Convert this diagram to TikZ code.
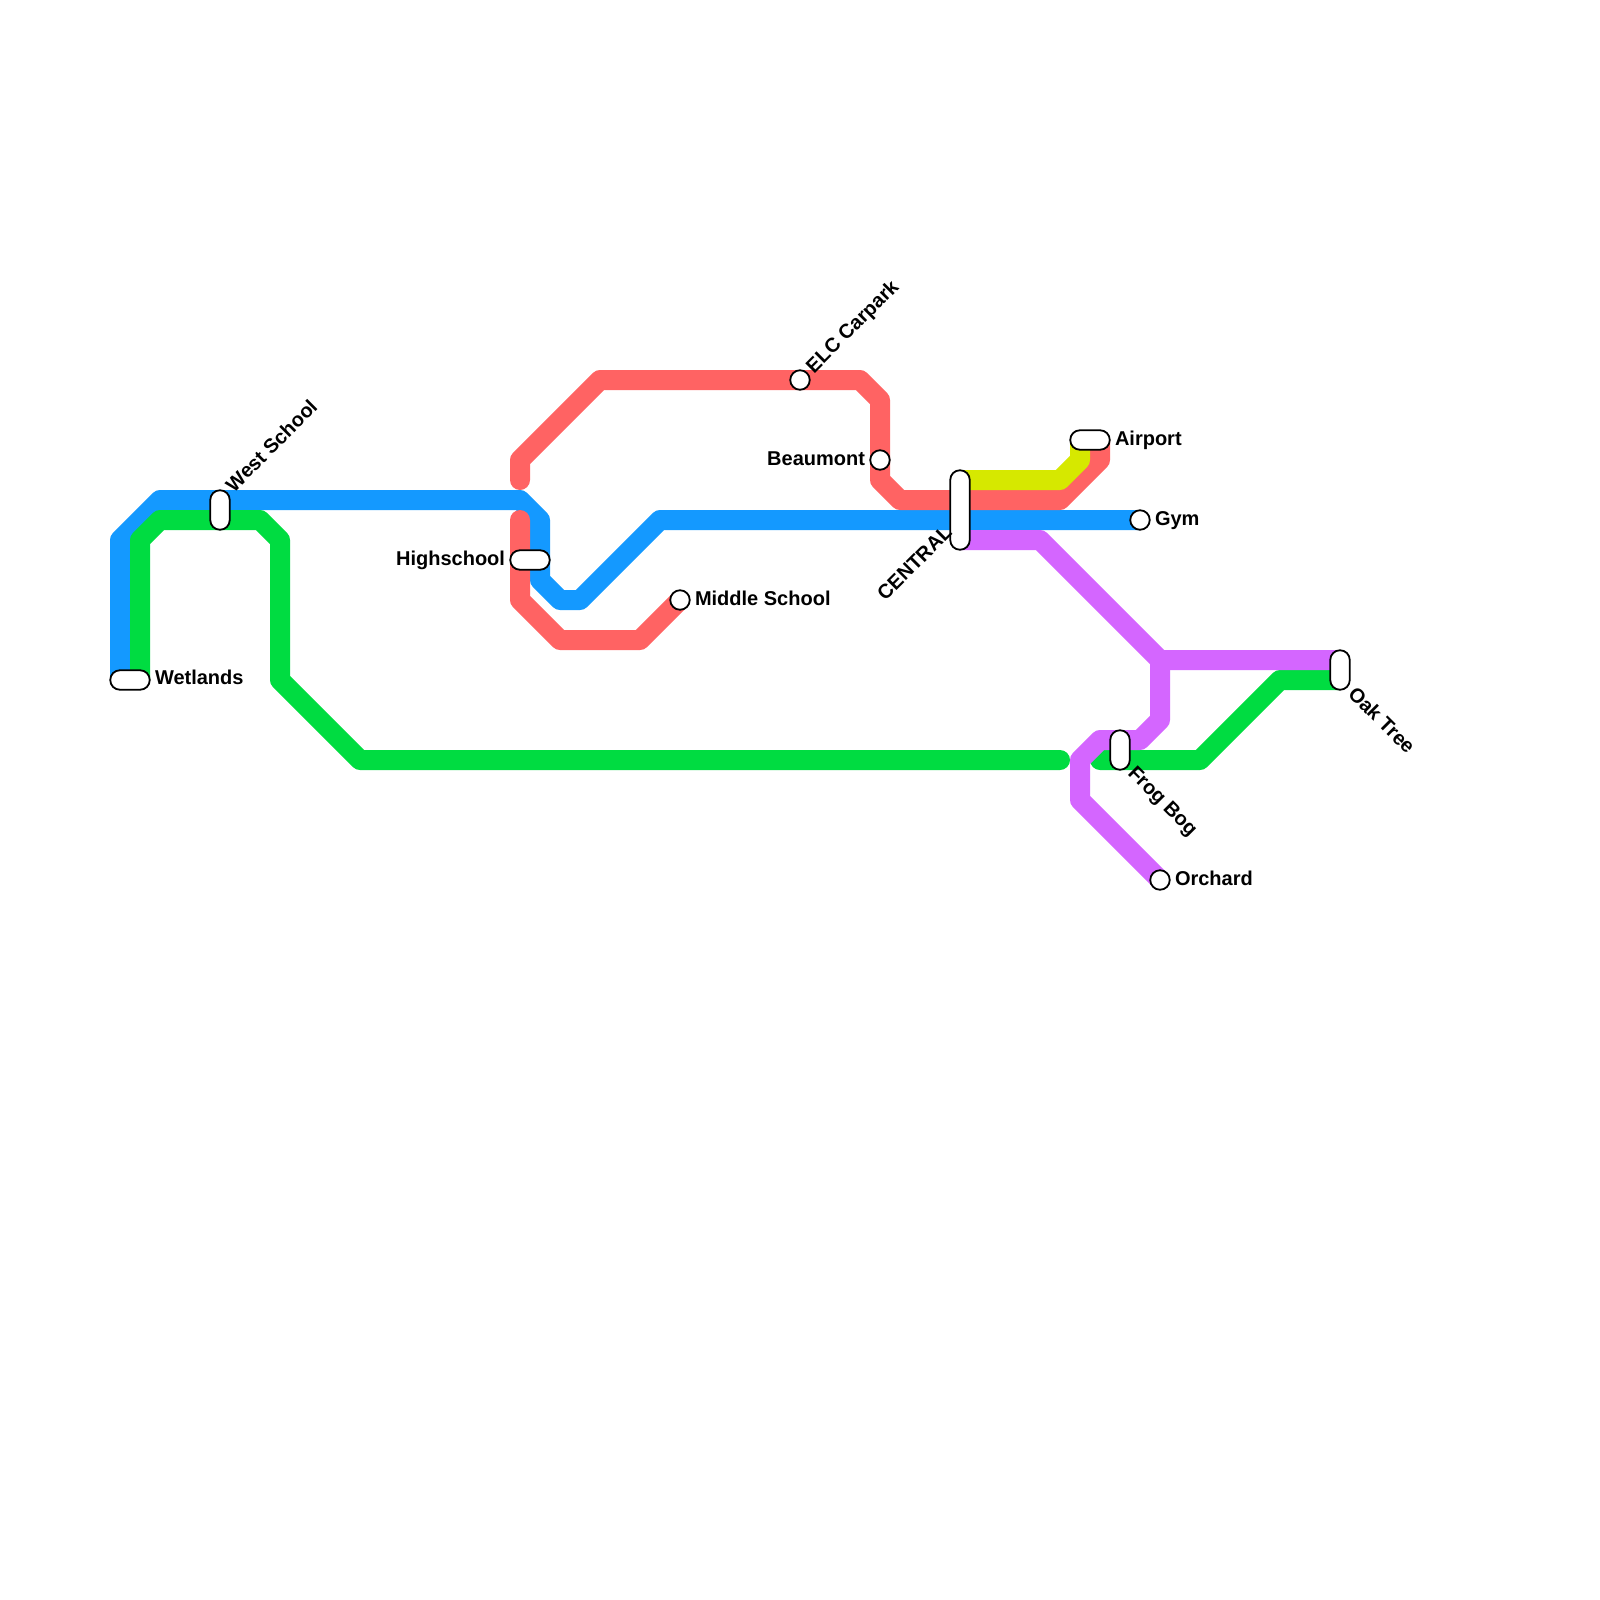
\documentclass[tikz,border=0pt]{standalone}
\usepackage{fontspec}
\setmainfont{Liberation Sans}
\definecolor{lblue}{RGB}{20,153,255}
\definecolor{lred}{RGB}{255,99,99}
\definecolor{lgreen}{RGB}{0,220,65}
\definecolor{lyellow}{RGB}{214,232,0}
\definecolor{lpurple}{RGB}{212,102,255}
\tikzset{
  metro/.style={line width=20pt,line join=round,line cap=round},
  halt/.style={circle,draw=black,fill=white,line width=1.8pt,minimum size=19.5pt,inner sep=0pt},
  widebox/.style={rectangle,rounded corners=9.7pt,draw=black,fill=white,line width=1.8pt,inner sep=0pt,minimum width=39.5pt,minimum height=19.5pt},
  tallbox/.style={rectangle,rounded corners=9.7pt,draw=black,fill=white,line width=1.8pt,inner sep=0pt,minimum width=19.5pt,minimum height=39.5pt},
  longbox/.style={tallbox,minimum height=79.5pt},
  lbl/.style={inner sep=0pt,outer sep=0pt,font=\fontsize{20}{20}\selectfont\bfseries,text=black}
}
\begin{document}
\begin{tikzpicture}[x=1pt,y=-1pt]
\useasboundingbox (0,0) rectangle (1600,1600);
\fill[white] (0,0) rectangle (1600,1600);
% blue
\coordinate (b0) at (120,680); \coordinate (b1) at (120,540); \coordinate (b2) at (160,500);
\coordinate (b3) at (520,500); \coordinate (b4) at (540,520); \coordinate (b5) at (540,580);
\coordinate (b6) at (560,600); \coordinate (b7) at (580,600); \coordinate (b8) at (660,520);
\coordinate (b9) at (1140,520);
% green
\coordinate (g0) at (140,680); \coordinate (g1) at (140,540); \coordinate (g2) at (160,520);
\coordinate (g3) at (260,520); \coordinate (g4) at (280,540); \coordinate (g5) at (280,680);
\coordinate (g6) at (360,760); \coordinate (g7) at (1060,760);
\coordinate (h0) at (1100,760); \coordinate (h1) at (1200,760); \coordinate (h2) at (1280,680);
\coordinate (h3) at (1340,680);
% red
\coordinate (r0) at (520,480); \coordinate (r1) at (520,460); \coordinate (r2) at (600,380);
\coordinate (r3) at (860,380); \coordinate (r4) at (880,400); \coordinate (r5) at (880,480);
\coordinate (r6) at (900,500); \coordinate (r7) at (1060,500); \coordinate (r8) at (1100,460);
\coordinate (r9) at (1100,440);
\coordinate (s0) at (520,520); \coordinate (s1) at (520,600); \coordinate (s2) at (560,640);
\coordinate (s3) at (640,640); \coordinate (s4) at (680,600);
% yellow
\coordinate (y0) at (960,480); \coordinate (y1) at (1060,480); \coordinate (y2) at (1080,460);
\coordinate (y3) at (1080,440);
% purple
\coordinate (p0) at (960,540); \coordinate (p1) at (1040,540); \coordinate (p2) at (1160,660);
\coordinate (p3) at (1340,660); \coordinate (p4) at (1160,720); \coordinate (p5) at (1140,740);
\coordinate (p6) at (1100,740); \coordinate (p7) at (1080,760); \coordinate (p8) at (1080,800);
\coordinate (p9) at (1160,880);

\draw[metro,lblue] (b0)--(b1)--(b2)--(b3)--(b4)--(b5)--(b6)--(b7)--(b8)--(b9);
\draw[metro,lred] (r0)--(r1)--(r2)--(r3)--(r4)--(r5)--(r6)--(r7)--(r8)--(r9);
\draw[metro,lred] (s0)--(s1)--(s2)--(s3)--(s4);
\draw[metro,lyellow] (y0)--(y1)--(y2)--(y3);
\draw[metro,lgreen] (g0)--(g1)--(g2)--(g3)--(g4)--(g5)--(g6)--(g7);
\draw[metro,lgreen] (h0)--(h1)--(h2)--(h3);
\draw[metro,lpurple] (p0)--(p1)--(p2)--(p3);
\draw[metro,lpurple] (p2)--(p4)--(p5)--(p6)--(p7)--(p8)--(p9);

% stations
\node[widebox] (wetlands) at (130,680) {};
\node[tallbox] (west) at (220,510) {};
\node[widebox] (high) at (530,560) {};
\node[halt] (middle) at (680,600) {};
\node[halt] (elc) at (800,380) {};
\node[halt] (beau) at (880,460) {};
\node[longbox] (central) at (960,510) {};
\node[widebox] (airport) at (1090,440) {};
\node[halt] (gym) at (1140,520) {};
\node[tallbox] (frog) at (1120,750) {};
\node[tallbox] (oak) at (1340,670) {};
\node[halt] (orchard) at (1160,880) {};

% labels
\node[lbl,anchor=base west] (t1) at (155,684) {Wetlands};
\node[lbl,anchor=base west,rotate=45] (t2) at (234,493) {West School};
\node[lbl,anchor=base east] (t3) at (505,565) {Highschool};
\node[lbl,anchor=base west] (t4) at (695,605) {Middle School};
\node[lbl,anchor=base west,rotate=45] (t5) at (814,374) {ELC Carpark};
\node[lbl,anchor=base east] (t6) at (865,465) {Beaumont};
\node[lbl,anchor=base east,rotate=45] (t7) at (953,534) {CENTRAL};
\node[lbl,anchor=base west] (t8) at (1115,445) {Airport};
\node[lbl,anchor=base west] (t9) at (1155,525) {Gym};
\node[lbl,anchor=base west,rotate=-45] (t10) at (1127,774) {Frog Bog};
\node[lbl,anchor=base west,rotate=-45] (t11) at (1347,695) {Oak Tree};
\node[lbl,anchor=base west] (t12) at (1175,885) {Orchard};
\end{tikzpicture}
\end{document}
